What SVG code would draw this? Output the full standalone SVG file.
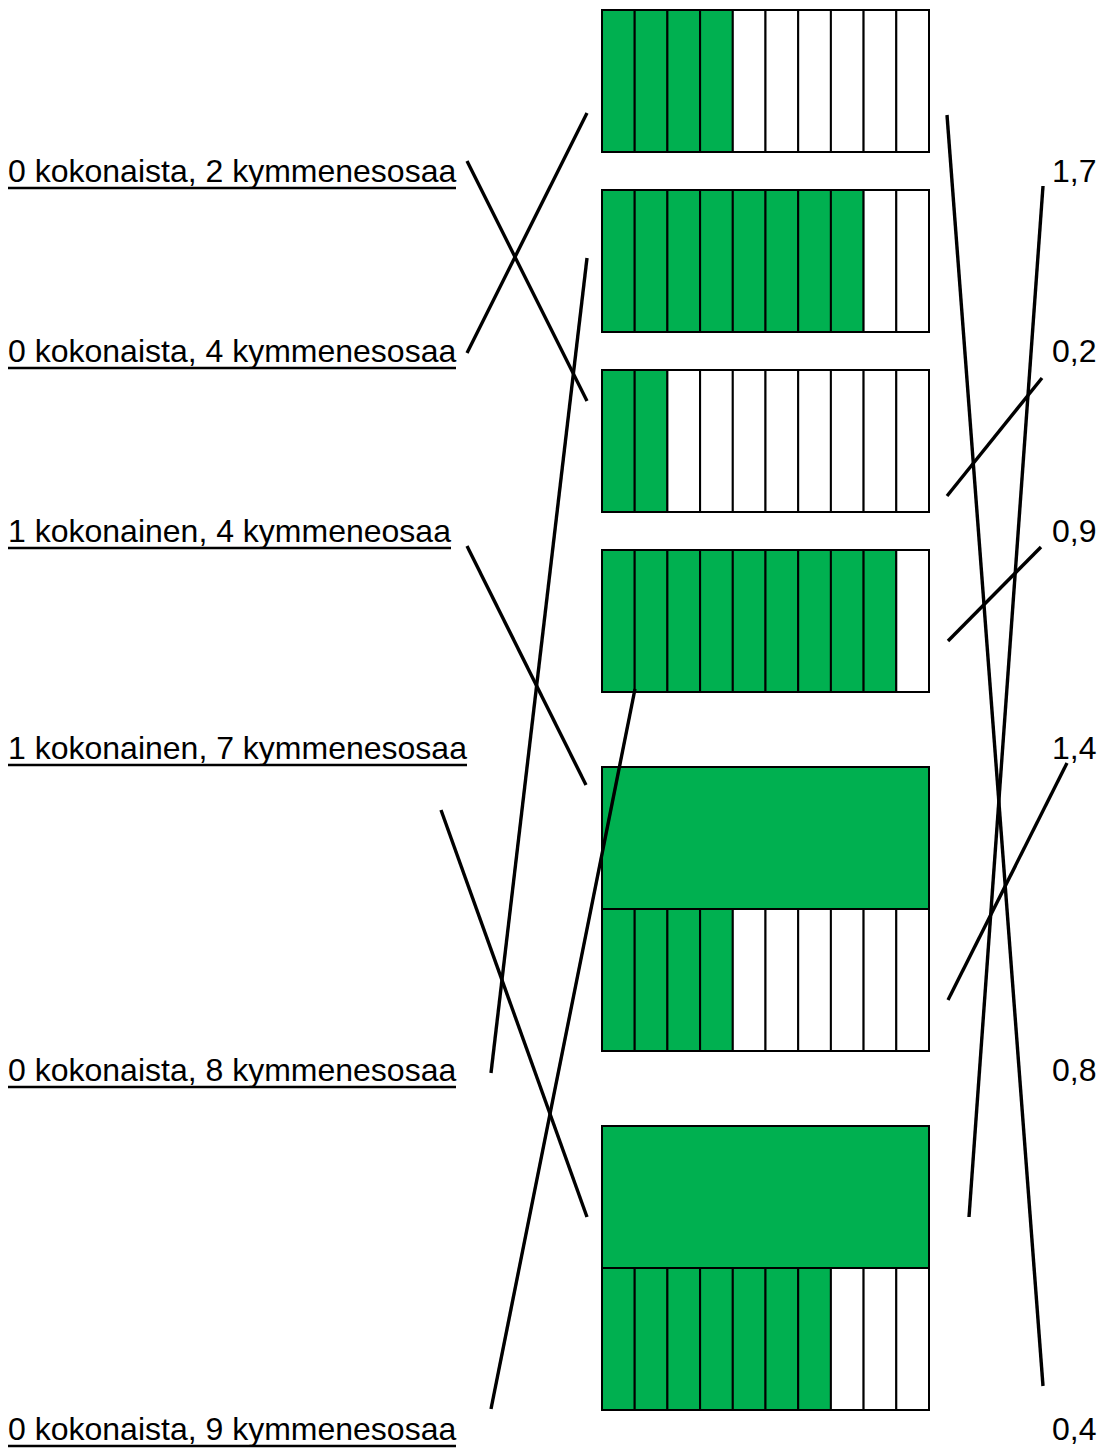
<svg xmlns="http://www.w3.org/2000/svg" width="1100" height="1448" viewBox="0 0 1100 1448">
<style>
.g{fill:#00B050;stroke:#000;stroke-width:2}
.w{fill:#fff;stroke:#000;stroke-width:2}
.lbl{font-family:"Liberation Sans",Arial,sans-serif;font-size:32px;fill:#000}
.ul{stroke:#000;stroke-width:2.5}
.c{stroke:#000;stroke-width:3.4;fill:none}
</style>
<defs>
<g id="c-g"><rect class="g" width="32.7" height="142"/></g>
<g id="c-w"><rect class="w" width="32.7" height="142"/></g>
</defs>
<rect width="1100" height="1448" fill="#fff"/>

<g id="box1" transform="translate(602,10)">
<use href="#c-g" x="0"/><use href="#c-g" x="32.7"/><use href="#c-g" x="65.4"/><use href="#c-g" x="98.1"/>
<use href="#c-w" x="130.8"/><use href="#c-w" x="163.5"/><use href="#c-w" x="196.2"/><use href="#c-w" x="228.9"/><use href="#c-w" x="261.6"/><use href="#c-w" x="294.3"/>
</g>
<g id="box2" transform="translate(602,190)">
<use href="#c-g" x="0"/><use href="#c-g" x="32.7"/><use href="#c-g" x="65.4"/><use href="#c-g" x="98.1"/>
<use href="#c-g" x="130.8"/><use href="#c-g" x="163.5"/><use href="#c-g" x="196.2"/><use href="#c-g" x="228.9"/><use href="#c-w" x="261.6"/><use href="#c-w" x="294.3"/>
</g>
<g id="box3" transform="translate(602,370)">
<use href="#c-g" x="0"/><use href="#c-g" x="32.7"/><use href="#c-w" x="65.4"/><use href="#c-w" x="98.1"/>
<use href="#c-w" x="130.8"/><use href="#c-w" x="163.5"/><use href="#c-w" x="196.2"/><use href="#c-w" x="228.9"/><use href="#c-w" x="261.6"/><use href="#c-w" x="294.3"/>
</g>
<g id="box4" transform="translate(602,550)">
<use href="#c-g" x="0"/><use href="#c-g" x="32.7"/><use href="#c-g" x="65.4"/><use href="#c-g" x="98.1"/>
<use href="#c-g" x="130.8"/><use href="#c-g" x="163.5"/><use href="#c-g" x="196.2"/><use href="#c-g" x="228.9"/><use href="#c-g" x="261.6"/><use href="#c-w" x="294.3"/>
</g>
<g id="box5" transform="translate(602,767)">
<rect class="g" width="327" height="142"/>
<g transform="translate(0,142)">
<use href="#c-g" x="0"/><use href="#c-g" x="32.7"/><use href="#c-g" x="65.4"/><use href="#c-g" x="98.1"/>
<use href="#c-w" x="130.8"/><use href="#c-w" x="163.5"/><use href="#c-w" x="196.2"/><use href="#c-w" x="228.9"/><use href="#c-w" x="261.6"/><use href="#c-w" x="294.3"/>
</g>
</g>
<g id="box6" transform="translate(602,1126)">
<rect class="g" width="327" height="142"/>
<g transform="translate(0,142)">
<use href="#c-g" x="0"/><use href="#c-g" x="32.7"/><use href="#c-g" x="65.4"/><use href="#c-g" x="98.1"/>
<use href="#c-g" x="130.8"/><use href="#c-g" x="163.5"/><use href="#c-g" x="196.2"/><use href="#c-w" x="228.9"/><use href="#c-w" x="261.6"/><use href="#c-w" x="294.3"/>
</g>
</g>

<g id="left-labels">
<g id="l1"><text class="lbl" x="8" y="182">0 kokonaista, 2 kymmenesosaa</text><line class="ul" x1="8" y1="188" x2="456" y2="188"/></g>
<g id="l2"><text class="lbl" x="8" y="362">0 kokonaista, 4 kymmenesosaa</text><line class="ul" x1="8" y1="368" x2="456" y2="368"/></g>
<g id="l3"><text class="lbl" x="8" y="542">1 kokonainen, 4 kymmeneosaa</text><line class="ul" x1="8" y1="548" x2="451" y2="548"/></g>
<g id="l4"><text class="lbl" x="8" y="759">1 kokonainen, 7 kymmenesosaa</text><line class="ul" x1="8" y1="765" x2="467" y2="765"/></g>
<g id="l5"><text class="lbl" x="8" y="1081">0 kokonaista, 8 kymmenesosaa</text><line class="ul" x1="8" y1="1087" x2="456" y2="1087"/></g>
<g id="l6"><text class="lbl" x="8" y="1440">0 kokonaista, 9 kymmenesosaa</text><line class="ul" x1="8" y1="1446" x2="456" y2="1446"/></g>
</g>
<g id="right-labels">
<text id="r1" class="lbl" x="1052" y="182">1,7</text>
<text id="r2" class="lbl" x="1052" y="362">0,2</text>
<text id="r3" class="lbl" x="1052" y="542">0,9</text>
<text id="r4" class="lbl" x="1052" y="759">1,4</text>
<text id="r5" class="lbl" x="1052" y="1081">0,8</text>
<text id="r6" class="lbl" x="1052" y="1440">0,4</text>
</g>

<g id="connectors">
<line class="c" x1="467" y1="161" x2="587" y2="401"/>
<line class="c" x1="467" y1="353" x2="587" y2="113"/>
<line class="c" x1="467" y1="546" x2="586" y2="785"/>
<line class="c" x1="441" y1="810" x2="587" y2="1217"/>
<line class="c" x1="491" y1="1073" x2="587" y2="258"/>
<line class="c" x1="491" y1="1409" x2="635" y2="689"/>
<line class="c" x1="947" y1="115" x2="1043" y2="1386"/>
<line class="c" x1="1043" y1="186" x2="969" y2="1217"/>
<line class="c" x1="947" y1="496" x2="1042" y2="378"/>
<line class="c" x1="948" y1="641" x2="1041" y2="547"/>
<line class="c" x1="948" y1="1000" x2="1067" y2="763"/>
</g>
</svg>
